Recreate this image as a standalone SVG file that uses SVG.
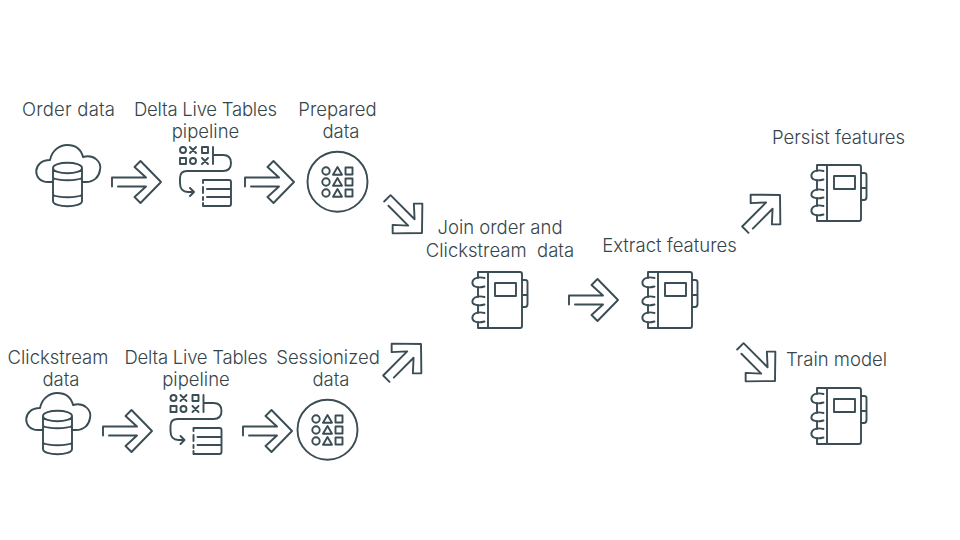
<svg xmlns="http://www.w3.org/2000/svg" width="960" height="540" viewBox="0 0 960 540">
<style>
text{font-family:"Inter","Liberation Sans",sans-serif;font-weight:300;font-size:18.500px;fill:#36454a;text-anchor:middle}
.s{fill:none;stroke:#3a4c54;stroke-width:1.900;stroke-linejoin:round;stroke-linecap:round}
</style>
<defs>
<g id="arrow" class="s"><path d="M-43,4.500H-15L-26.500,15L-20.500,21L0,0L-20.500,-21L-26.500,-15L-15,-4.500H-49V4.500"/></g>
<g id="book" class="s">
<path d="M0,6V0H42Q44,0 44,2V54Q44,56 42,56H0V50M0,15V25M0,33V41M10,0V56"/>
<rect x="17" y="11" width="21" height="13"/>
<path d="M44,8H47Q49.500,8 49.500,10V23H44M49.500,23V32Q49.500,35 47,35H44"/>
<path d="M6.500,6C3,5 -1,5.500 -3,6.500C-6.500,8.500 -6.500,13 -3,14.500C-1,15.500 3,15.500 6.500,14.500"/>
<path d="M6.500,25C3,24 -1,24.500 -3,25.500C-6.500,27.500 -6.500,31.500 -3,32.500C-1,33.500 3,33.500 6.500,32.500"/>
<path d="M6.500,41C3,40 -1,40.500 -3,41.500C-6.500,43.500 -6.500,48 -3,49.500C-1,50.500 3,50.500 6.500,49.500"/>
</g>
<g id="cloud" class="s">
<path d="M17,37H12C-4,37 -4,15 14,15C16,5 24,0 31,0C39,0 45,4 47,12C58,9 66,17 64,25C63,32 58,37 50,37H46"/>
<path d="M17,23C17,16 46,16 46,23V56C46,63 17,63 17,56ZM17,23C17,30 46,30 46,23M17,33C23,36 40,36 46,33V50C40,53 23,53 17,50"/>
</g>
<g id="dlt" class="s">
<circle cx="183" cy="150" r="3"/><path d="M190,147L196,153M196,147L190,153"/><rect x="202" y="147" width="6" height="6"/>
<rect x="180" y="158" width="6" height="6"/><circle cx="193" cy="161" r="3"/><path d="M202,158L208,164M208,158L202,164"/>
<path d="M213,147V164M213,155H223Q231,155 231,163Q231,171 223,171H187Q180,171 180,178V183Q180,192 188,192H194M190,188L194,192L190,196"/>
<path d="M203,183V180H229Q231,180 231,182V204Q231,206 229,206H203V203M203,187V193M203,197V200M207,189H231M207,197H231"/>
</g>
<g id="data" class="s">
<circle cx="337.500" cy="181.700" r="30"/>
<circle cx="326" cy="171" r="3.700"/><path d="M337.500,167L342,174.800H333Z"/><rect x="345.500" y="167.500" width="7" height="7"/>
<circle cx="326" cy="182" r="3.700"/><path d="M337.500,178L342,185.800H333Z"/><rect x="345.500" y="178.500" width="7" height="7"/>
<circle cx="326" cy="193" r="3.700"/><path d="M337.500,189L342,196.800H333Z"/><rect x="345.500" y="189.500" width="7" height="7"/>
</g>
</defs>
<g id="connectors">
<use href="#arrow" transform="translate(161,182)"/>
<use href="#arrow" transform="translate(294,182)"/>
<use href="#arrow" transform="translate(152,431)"/>
<use href="#arrow" transform="translate(292,431)"/>
<use href="#arrow" transform="translate(422,233) rotate(45)"/>
<use href="#arrow" transform="translate(421,344) rotate(-45)"/>
<use href="#arrow" transform="translate(618,300)"/>
<use href="#arrow" transform="translate(780,195) rotate(-45)"/>
<use href="#arrow" transform="translate(775,381) rotate(45)"/>
</g>
<g id="order"><use href="#cloud" transform="translate(36,145)"/><text x="68.500" y="115.500" textLength="93">Order data</text></g>
<g id="dlt1"><use href="#dlt"/><text x="205.500" y="115.500" textLength="143">Delta Live Tables</text><text x="205.500" y="137.500">pipeline</text></g>
<g id="prepared"><use href="#data"/><text x="337.500" y="115.500">Prepared</text><text x="341" y="137.500">data</text></g>
<g id="click"><use href="#cloud" transform="translate(26,393)"/><text x="58" y="363.500">Clickstream</text><text x="61" y="385.500">data</text></g>
<g id="dlt2"><use href="#dlt" transform="translate(-9.500,248)"/><text x="196" y="363.500" textLength="143">Delta Live Tables</text><text x="196" y="385.500">pipeline</text></g>
<g id="sessionized"><use href="#data" transform="translate(-10,248)"/><text x="328" y="363.500">Sessionized</text><text x="331" y="385.500">data</text></g>
<g id="join"><use href="#book" transform="translate(478,272)"/><text x="500" y="233.500">Join order and</text><text x="500" y="256.500" xml:space="preserve">Clickstream  data</text></g>
<g id="extract"><use href="#book" transform="translate(648,272)"/><text x="669.500" y="251.500">Extract features</text></g>
<g id="persist"><use href="#book" transform="translate(817,165)"/><text x="838.500" y="143.500">Persist features</text></g>
<g id="train"><use href="#book" transform="translate(817,388)"/><text x="836.500" y="365.500">Train model</text></g>
</svg>
